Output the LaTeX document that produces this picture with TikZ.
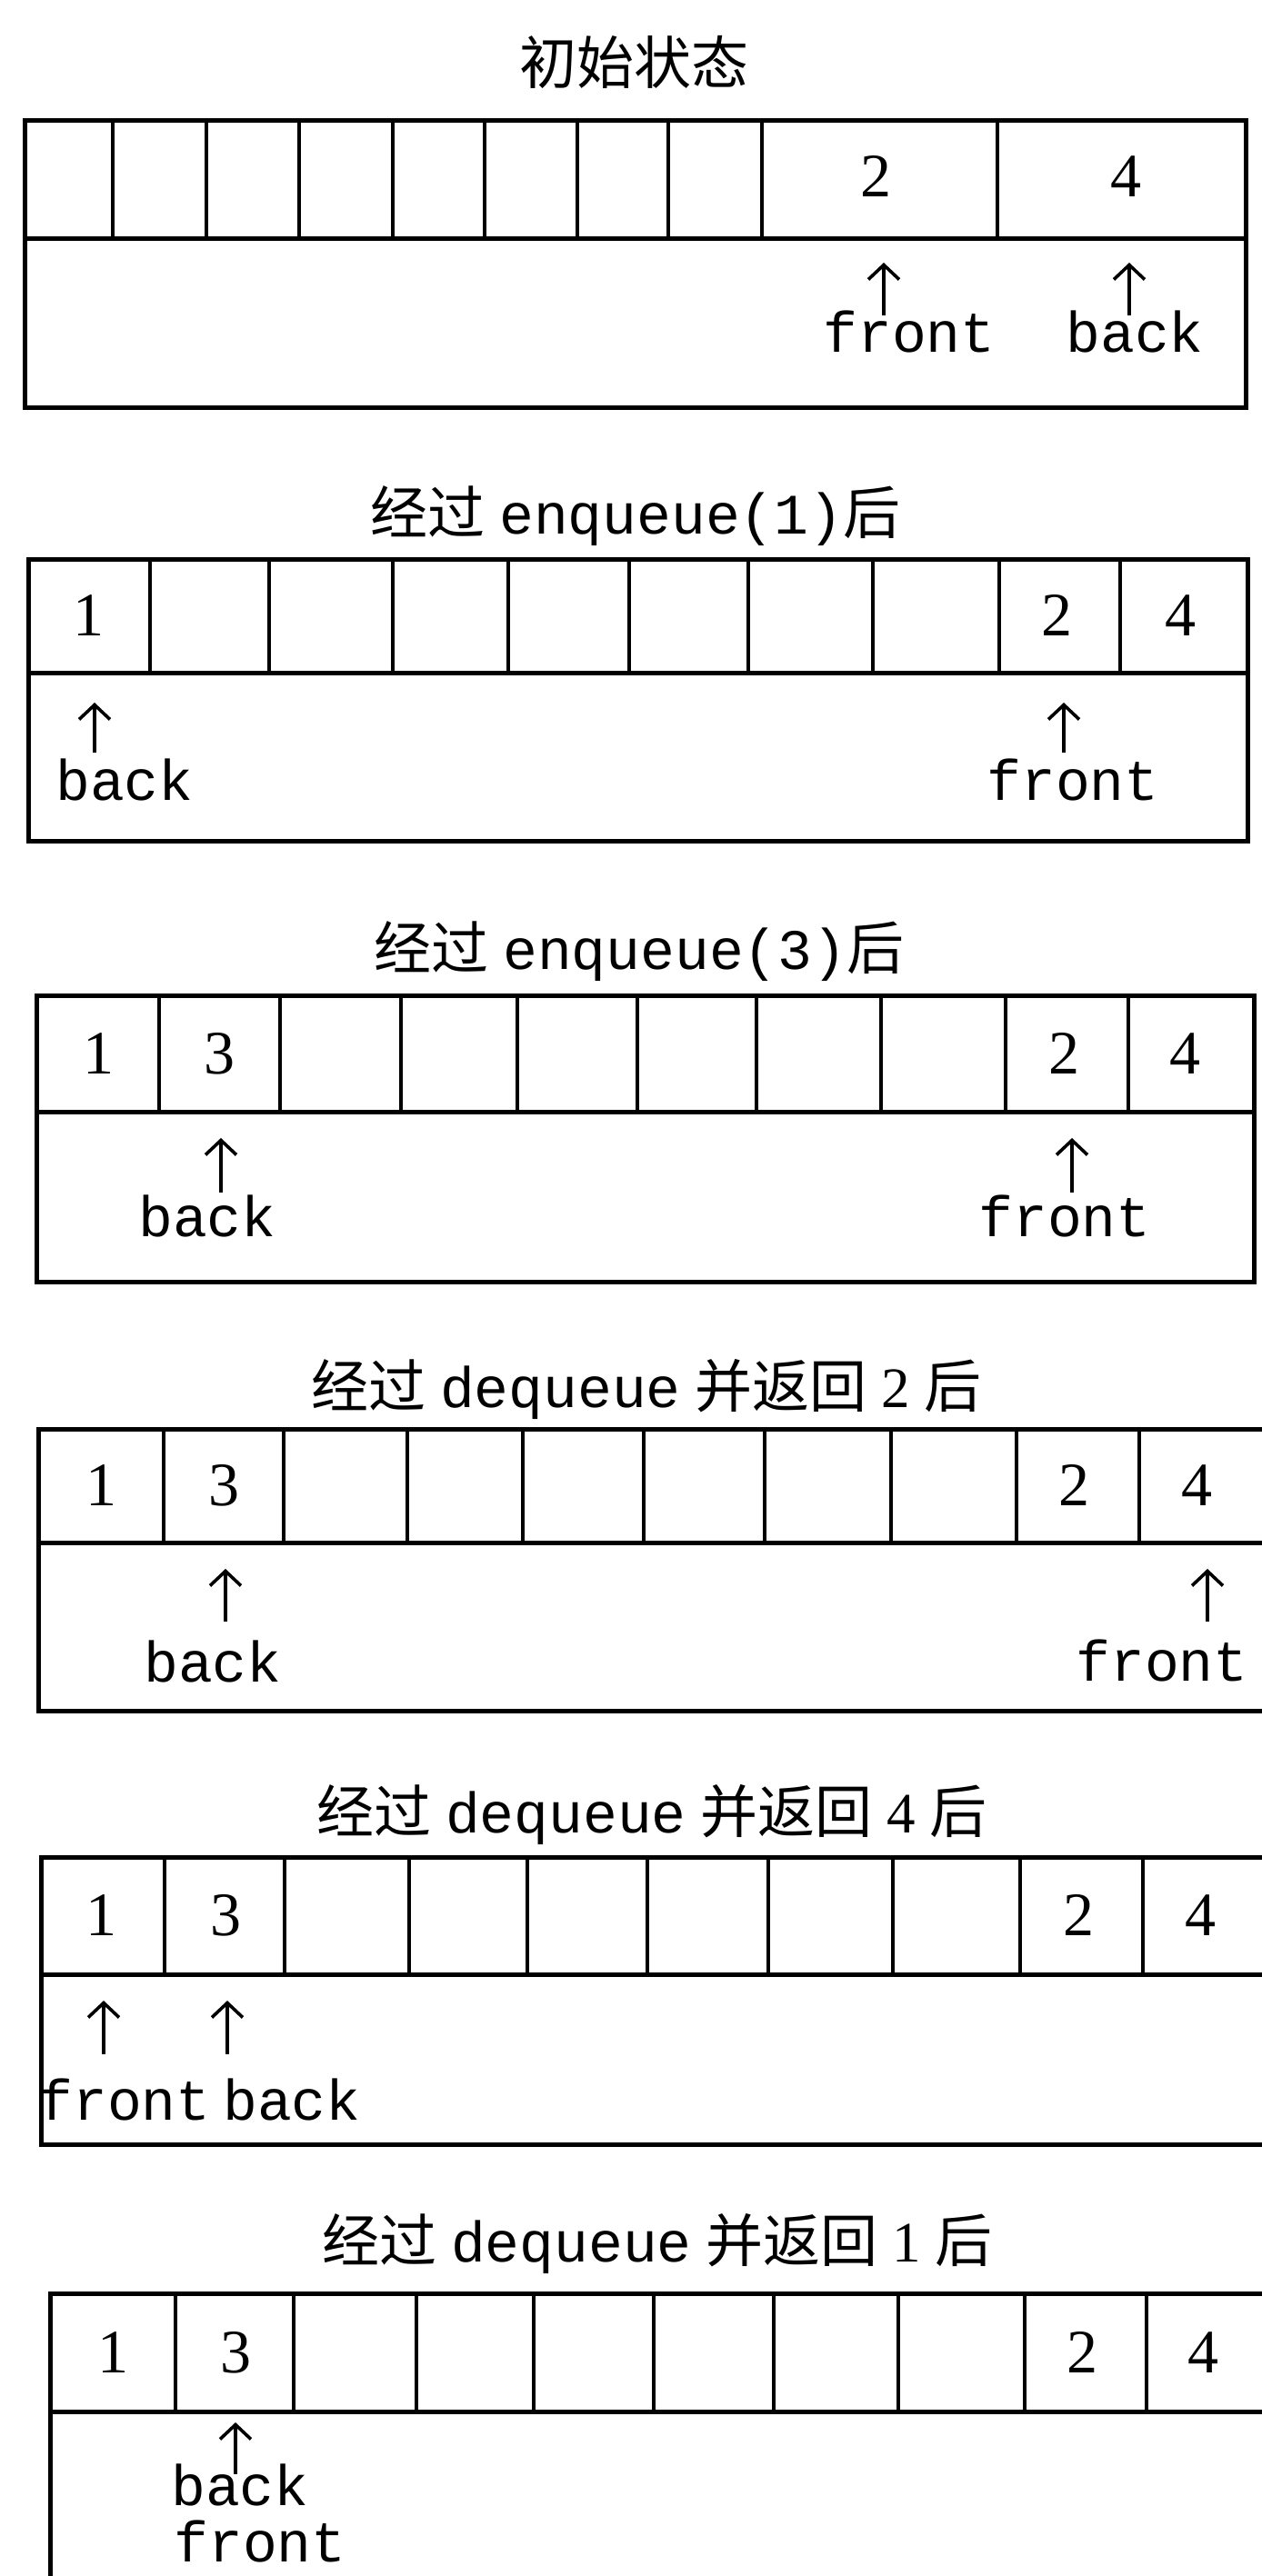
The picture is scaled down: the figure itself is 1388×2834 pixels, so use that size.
\documentclass[tikz,border=0pt]{standalone}
\usepackage{fontspec}
\setmainfont{Liberation Serif}
\setmonofont{Liberation Mono}
\newfontfamily\cjk{Noto Sans CJK SC}
\usetikzlibrary{arrows.meta}
\tikzset{
  frame/.style={line width=5pt},
  cellline/.style={line width=3.6pt},
  ptr/.style={line width=3.6pt,-{Straight Barb[length=16pt,width=34pt]}},
  digit/.style={inner sep=0pt,font=\fontsize{68}{72}\selectfont},
  lbl/.style={inner sep=0pt,anchor=base,font=\fontsize{63}{70}\selectfont\ttfamily},
  ttl/.style={inner sep=0pt,anchor=base,font=\fontsize{63}{70}\selectfont},
}
\begin{document}
\begin{tikzpicture}[x=1pt,y=-1pt]
\useasboundingbox (0,0) rectangle (1388,2834);
\clip (0,0) rectangle (1388,2834);
\fill[white] (0,0) rectangle (1388,2834);

% ---------- Panel 1 ----------
\node[ttl] (t1) at (697,93) {\cjk 初始状态};
\draw[frame] (27,133) rectangle (1370,448);
\draw[frame] (27,262) -- (1370,262);
\foreach \x in {124,227,329,432,533,635,735,838,1097}
  \draw[cellline] (\x,133) -- (\x,262);
\node[digit] (p1c2) at (963,194) {2};
\node[digit] (p1c4) at (1238,194) {4};
\coordinate (p1ft) at (972,347); \coordinate (p1fh) at (972,289);
\coordinate (p1bt) at (1242,347); \coordinate (p1bh) at (1242,289);
\draw[ptr] (p1ft) -- (p1fh);
\draw[ptr] (p1bt) -- (p1bh);
\node[lbl] (p1f) at (1000,387) {front};
\node[lbl] (p1b) at (1248,387) {back};

% ---------- Panel 2 ----------
\node[ttl] (t2) at (699,587) {{\cjk 经过} {\ttfamily enqueue(1)}{\cjk 后}};
\draw[frame] (31,615) rectangle (1372,925);
\draw[frame] (31,740) -- (1372,740);
\foreach \x in {165,296,432,559,692,823,960,1099,1232}
  \draw[cellline] (\x,615) -- (\x,740);
\node[digit] (p2c1) at (97,677) {1};
\node[digit] (p2c2) at (1162,677) {2};
\node[digit] (p2c4) at (1298,677) {4};
\coordinate (p2bt) at (104,828); \coordinate (p2bh) at (104,773);
\coordinate (p2ft) at (1170,828); \coordinate (p2fh) at (1170,773);
\draw[ptr] (p2bt) -- (p2bh);
\draw[ptr] (p2ft) -- (p2fh);
\node[lbl] (p2b) at (137,880) {back};
\node[lbl] (p2f) at (1180,880) {front};

% ---------- Panel 3 ----------
\node[ttl] (t3) at (703,1066) {{\cjk 经过} {\ttfamily enqueue(3)}{\cjk 后}};
\draw[frame] (40,1095) rectangle (1379,1410);
\draw[frame] (40,1223) -- (1379,1223);
\foreach \x in {175,308,441,569,701,832,969,1106,1241}
  \draw[cellline] (\x,1095) -- (\x,1223);
\node[digit] (p3c1) at (108,1159) {1};
\node[digit] (p3c3) at (241,1159) {3};
\node[digit] (p3c2) at (1170,1159) {2};
\node[digit] (p3c4) at (1303,1159) {4};
\coordinate (p3bt) at (243,1312); \coordinate (p3bh) at (243,1252);
\coordinate (p3ft) at (1179,1312); \coordinate (p3fh) at (1179,1252);
\draw[ptr] (p3bt) -- (p3bh);
\draw[ptr] (p3ft) -- (p3fh);
\node[lbl] (p3b) at (228,1360) {back};
\node[lbl] (p3f) at (1171,1360) {front};

% ---------- Panel 4 ----------
\node[ttl] (t4) at (711,1548) {{\cjk 经过} {\ttfamily dequeue} {\cjk 并返回} 2 {\cjk 后}};
\draw[frame] (42,1572) rectangle (1394,1882);
\draw[frame] (42,1697) -- (1394,1697);
\foreach \x in {180,312,448,575,708,841,980,1118,1253}
  \draw[cellline] (\x,1572) -- (\x,1697);
\node[digit] (p4c1) at (111,1634) {1};
\node[digit] (p4c3) at (246,1634) {3};
\node[digit] (p4c2) at (1181,1634) {2};
\node[digit] (p4c4) at (1316,1634) {4};
\coordinate (p4bt) at (248,1784); \coordinate (p4bh) at (248,1726);
\coordinate (p4ft) at (1328,1784); \coordinate (p4fh) at (1328,1726);
\draw[ptr] (p4bt) -- (p4bh);
\draw[ptr] (p4ft) -- (p4fh);
\node[lbl] (p4b) at (234,1850) {back};
\node[lbl] (p4f) at (1278,1849) {front};

% ---------- Panel 5 ----------
\node[ttl] (t5) at (717,2016) {{\cjk 经过} {\ttfamily dequeue} {\cjk 并返回} 4 {\cjk 后}};
\draw[frame] (45,2043) rectangle (1394,2359);
\draw[frame] (45,2172) -- (1394,2172);
\foreach \x in {181,313,450,580,712,845,982,1122,1257}
  \draw[cellline] (\x,2043) -- (\x,2172);
\node[digit] (p5c1) at (111,2107) {1};
\node[digit] (p5c3) at (248,2107) {3};
\node[digit] (p5c2) at (1186,2107) {2};
\node[digit] (p5c4) at (1320,2107) {4};
\coordinate (p5ft) at (114,2260); \coordinate (p5fh) at (114,2201);
\coordinate (p5bt) at (250,2260); \coordinate (p5bh) at (250,2201);
\draw[ptr] (p5ft) -- (p5fh);
\draw[ptr] (p5bt) -- (p5bh);
\node[lbl] (p5f) at (137,2332) {front};
\node[lbl] (p5b) at (321,2332) {back};

% ---------- Panel 6 ----------
\node[ttl] (t6) at (723,2488) {{\cjk 经过} {\ttfamily dequeue} {\cjk 并返回} 1 {\cjk 后}};
\draw[frame] (55,2523) rectangle (1394,2880);
\draw[frame] (55,2653) -- (1394,2653);
\foreach \x in {193,323,458,587,719,851,988,1127,1261}
  \draw[cellline] (\x,2523) -- (\x,2653);
\node[digit] (p6c1) at (124,2588) {1};
\node[digit] (p6c3) at (259,2588) {3};
\node[digit] (p6c2) at (1190,2588) {2};
\node[digit] (p6c4) at (1323,2588) {4};
\coordinate (p6bt) at (259,2722); \coordinate (p6bh) at (259,2665);
\draw[ptr] (p6bt) -- (p6bh);
\node[lbl] (p6b) at (264,2756) {back};
\node[lbl] (p6f) at (286,2818) {front};
\end{tikzpicture}
\end{document}
